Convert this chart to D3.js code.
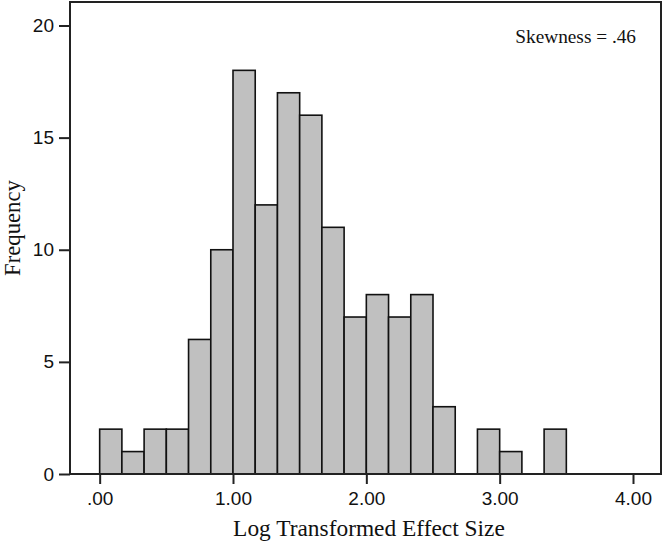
<!DOCTYPE html>
<html>
<head>
<meta charset="utf-8">
<script src="https://cdn.jsdelivr.net/npm/d3@7"></script>
<style>
  body { margin: 0; background: #fff; }
  svg { display: block; }
</style>
</head>
<body>
<div id="chart"></div>
<script>
// histogram bins: lower edge of each bin (width 1/6) and its count
const binStarts = [0, 1, 2, 3, 4, 5, 6, 7, 8, 9, 10, 11, 12, 13, 14, 15, 16, 17, 18, 19, 20].map(i => i / 6);
const counts = [2, 1, 2, 2, 6, 10, 18, 12, 17, 16, 11, 7, 8, 7, 8, 3, 0, 2, 1, 0, 2];
const binWidth = 1 / 6;
const xTicks = [0, 1, 2, 3, 4];
const yTicks = [0, 5, 10, 15, 20];

const width = 664, height = 545;
const plot = { left: 70, right: 661, top: 2, bottom: 474 };

const svg = d3.select("#chart").append("svg")
  .attr("width", width)
  .attr("height", height);

const x = d3.scaleLinear().domain([-0.2225, 4.21]).range([plot.left, plot.right]);
const y = d3.scaleLinear().domain([0, 20]).range([474, 25.5]);

const bins = binStarts.map((s, i) => ({ x0: s, x1: s + binWidth, n: counts[i] }));

svg.selectAll(".bar")
  .data(bins.filter(d => d.n > 0))
  .enter()
  .append("rect")
  .attr("class", "bar")
  .attr("x", d => x(d.x0))
  .attr("y", d => y(d.n))
  .attr("width", d => x(d.x1) - x(d.x0))
  .attr("height", d => y(0) - y(d.n))
  .attr("fill", "#c0c0c0")
  .attr("stroke", "#111")
  .attr("stroke-width", 1.6);

// frame
svg.append("rect")
  .attr("x", plot.left)
  .attr("y", plot.top)
  .attr("width", plot.right - plot.left)
  .attr("height", plot.bottom - plot.top)
  .attr("fill", "none")
  .attr("stroke", "#222")
  .attr("stroke-width", 2);

// y axis
const yAxis = svg.append("g")
  .attr("transform", `translate(${plot.left},0)`)
  .call(d3.axisLeft(y).tickValues(yTicks).tickSize(11).tickPadding(5));
yAxis.select(".domain").remove();
yAxis.selectAll("line").attr("stroke", "#222").attr("stroke-width", 2);
yAxis.selectAll("text")
  .attr("fill", "#111")
  .style("font-family", "'Liberation Sans', Arial, sans-serif")
  .style("font-size", "19px");

// x axis
const xAxis = svg.append("g")
  .attr("transform", `translate(0,${plot.bottom})`)
  .call(d3.axisBottom(x).tickValues(xTicks).tickSize(10).tickPadding(8)
    .tickFormat(d => d3.format(".2f")(d).replace(/^0/, "")));
xAxis.select(".domain").remove();
xAxis.selectAll("line").attr("stroke", "#222").attr("stroke-width", 2);
xAxis.selectAll("text")
  .attr("fill", "#111")
  .style("font-family", "'Liberation Sans', Arial, sans-serif")
  .style("font-size", "19px");

// titles
svg.append("text")
  .attr("x", 369)
  .attr("y", 536)
  .attr("text-anchor", "middle")
  .style("font-family", "'Liberation Serif', 'Times New Roman', serif")
  .style("font-size", "23.4px")
  .attr("fill", "#111")
  .text("Log Transformed Effect Size");

svg.append("text")
  .attr("transform", "translate(20,228) rotate(-90)")
  .attr("text-anchor", "middle")
  .style("font-family", "'Liberation Serif', 'Times New Roman', serif")
  .style("font-size", "22.7px")
  .attr("fill", "#111")
  .text("Frequency");

svg.append("text")
  .attr("x", 636)
  .attr("y", 43)
  .attr("text-anchor", "end")
  .style("font-family", "'Liberation Serif', 'Times New Roman', serif")
  .style("font-size", "19.3px")
  .attr("fill", "#111")
  .text("Skewness = .46");
</script>
</body>
</html>
